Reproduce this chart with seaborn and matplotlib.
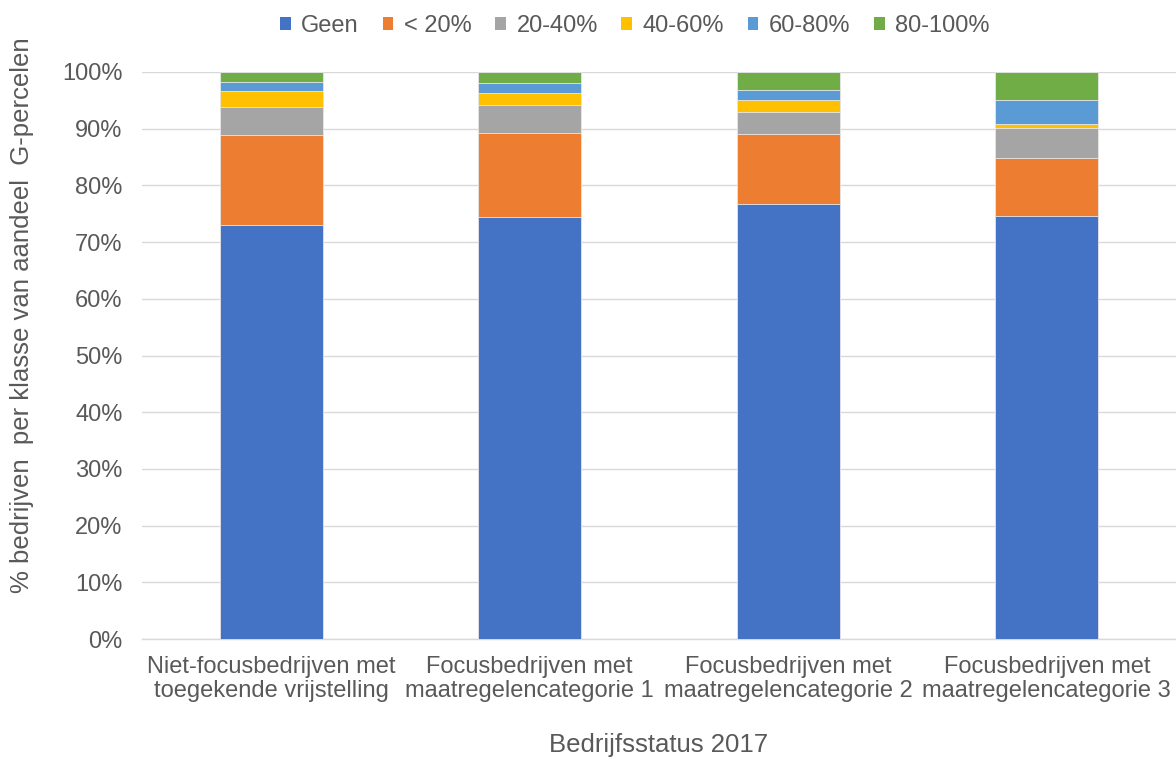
import matplotlib
matplotlib.use("Agg")
import matplotlib.pyplot as plt
from matplotlib.patches import Patch
import seaborn as sns
import numpy as np
import pandas as pd

categories = [
    "Niet-focusbedrijven met\ntoegekende vrijstelling",
    "Focusbedrijven met\nmaatregelencategorie 1",
    "Focusbedrijven met\nmaatregelencategorie 2",
    "Focusbedrijven met\nmaatregelencategorie 3",
]
classes = ["Geen", "< 20%", "20-40%", "40-60%", "60-80%", "80-100%"]
geen = [73.1, 74.5, 76.7, 74.6]
lt20 = [15.8, 14.8, 12.3, 10.2]
p20_40 = [4.9, 4.9, 3.9, 5.3]
p40_60 = [2.9, 2.1, 2.1, 0.7]
p60_80 = [1.5, 1.8, 1.8, 4.2]
p80_100 = [1.8, 1.9, 3.2, 5.0]
colors = ["#4472C4", "#ED7D31", "#A5A5A5", "#FFC000", "#5B9BD5", "#70AD47"]

sns.set_theme(style="white")
plt.rcParams["font.family"] = ["Liberation Sans", "DejaVu Sans"]
text_color = "#595959"
fs = 17
fs_title = 18.5

series = [geen, lt20, p20_40, p40_60, p60_80, p80_100]
vals = np.array(series) / 100.0
cum = np.cumsum(vals, axis=0)

fig = plt.figure(figsize=(11.76, 7.62), dpi=100)
ax = fig.add_axes([142 / 1176, 1 - 639 / 762, (1176 - 142) / 1176, (639 - 72) / 762])

# draw cumulative totals from the top class down so each layer shows as a stacked segment
for i in range(len(classes) - 1, -1, -1):
    df = pd.DataFrame({"cat": categories, "val": cum[i]})
    sns.barplot(data=df, x="cat", y="val", color=colors[i], width=0.4,
                edgecolor="#E8E8E8", linewidth=0.6, ax=ax, saturation=1, zorder=3)

ax.set_ylim(0, 1)
ax.set_yticks(np.arange(0, 1.01, 0.1))
ax.set_yticklabels([f"{int(round(t*100))}%" for t in np.arange(0, 1.01, 0.1)])
ax.yaxis.grid(True, color="#D9D9D9", linewidth=1, zorder=0)
ax.set_axisbelow(True)
for s in ["top", "right", "left"]:
    ax.spines[s].set_visible(False)
ax.spines["bottom"].set_color("#D9D9D9")
ax.spines["bottom"].set_linewidth(1)
ax.tick_params(axis="y", length=0, pad=14, labelsize=fs, labelcolor=text_color)
ax.tick_params(axis="x", length=0, pad=12.5, labelsize=fs, labelcolor=text_color)
for lbl in ax.get_xticklabels():
    lbl.set_linespacing(1.12)
    lbl.set_multialignment("center")

ax.set_xlabel("Bedrijfsstatus 2017", fontsize=fs_title, color=text_color)
ax.xaxis.set_label_coords(0.5, (639 - 745) / 567)
ax.xaxis.label.set_va("center")
ax.set_ylabel("% bedrijven  per klasse van aandeel  G-percelen", fontsize=fs_title, color=text_color)
ax.yaxis.set_label_coords((22 - 142) / 1034, (639 - 315) / 567)
ax.yaxis.label.set_va("center")

handles = [Patch(facecolor=c, edgecolor="none", label=l) for c, l in zip(colors, classes)]
fig.legend(handles=handles, loc="center", bbox_to_anchor=(635 / 1176, 1 - 26 / 762), ncol=6,
           frameon=False, fontsize=fs, handlelength=0.45, handleheight=0.45,
           handletextpad=0.45, columnspacing=1.0, labelcolor=text_color)

fig.savefig("out.png", dpi=100)
